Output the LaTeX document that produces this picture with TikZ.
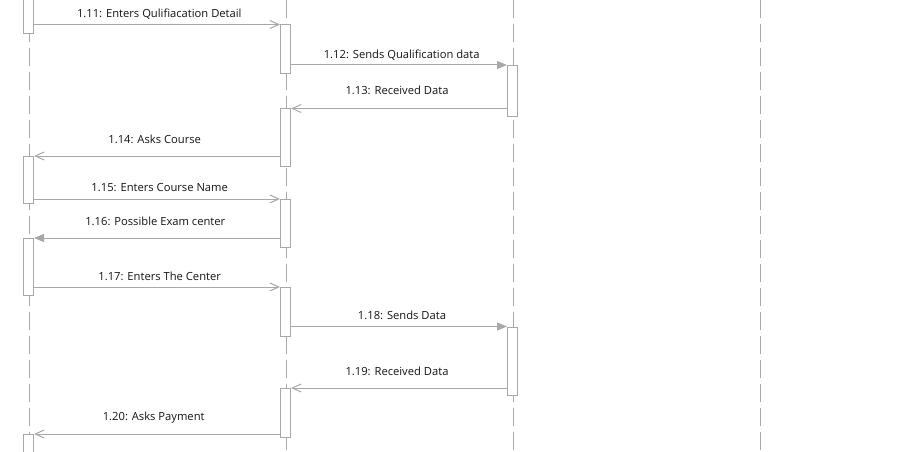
\documentclass[tikz,border=0pt]{standalone}
\usepackage{fontspec}
\setmainfont{Open Sans}
\usetikzlibrary{arrows.meta}
\definecolor{linegray}{HTML}{A8A8A8}
\definecolor{txt}{HTML}{141414}
\tikzset{
  lifeline/.style={draw=linegray, line width=1pt, dash pattern=on 18pt off 6pt},
  actbox/.style={draw=linegray, fill=white, line width=1pt, minimum width=10pt, inner sep=0pt, anchor=north},
  msgopen/.style={draw=linegray, line width=1pt, -{Straight Barb[length=9pt,width=8pt,line width=1pt]}},
  msgfill/.style={draw=linegray, line width=1pt, -{Triangle[length=10pt,width=8pt,fill=linegray]}},
  lbl/.style={text=txt, font=\fontsize{11.2}{13}\selectfont, inner sep=0pt}
}
\begin{document}
\begin{tikzpicture}[x=1pt,y=-1pt]
\useasboundingbox (0,0) rectangle (911,452);
% lifelines
\draw[lifeline] (29,0) -- (29,452);
\draw[lifeline] (286,0) -- (286,452);
\draw[lifeline] (513,0) -- (513,452);
\draw[lifeline] (760,0) -- (760,452);
% activation boxes
\node[actbox, minimum height=43pt] (b1a) at (28.5,-10) {};
\node[actbox, minimum height=47pt] (b1b) at (28.5,156) {};
\node[actbox, minimum height=57pt] (b1c) at (28.5,238) {};
\node[actbox, minimum height=30pt] (b1d) at (28.5,434) {};
\node[actbox, minimum height=49pt] (b2a) at (285.5,24.5) {};
\node[actbox, minimum height=57pt] (b2b) at (285.5,108.5) {};
\node[actbox, minimum height=48pt] (b2c) at (285.5,199) {};
\node[actbox, minimum height=49pt] (b2d) at (285.5,287) {};
\node[actbox, minimum height=49pt] (b2e) at (285.5,388) {};
\node[actbox, minimum height=51pt] (b3a) at (512.5,65) {};
\node[actbox, minimum height=68pt] (b3b) at (512.5,326.5) {};
% messages
\draw[msgopen] (b1a.east |- b2a.north) -- (b2a.north west);
\draw[msgfill] (b2a.east |- b3a.north) -- (b3a.north west);
\draw[msgopen] (b3a.west |- b2b.north) -- (b2b.north east);
\draw[msgopen] (b2b.west |- b1b.north) -- (b1b.north east);
\draw[msgopen] (b1b.east |- b2c.north) -- (b2c.north west);
\draw[msgfill] (b2c.west |- b1c.north) -- (b1c.north east);
\draw[msgopen] (b1c.east |- b2d.north) -- (b2d.north west);
\draw[msgfill] (b2d.east |- b3b.north) -- (b3b.north west);
\draw[msgopen] (b3b.west |- b2e.north) -- (b2e.north east);
\draw[msgopen] (b2e.west |- b1d.north) -- (b1d.north east);
% labels
\node[lbl] (l11) at (159.3,14) {1.11: Enters Qulifiacation Detail};
\node[lbl] (l12) at (401.7,55) {1.12: Sends Qualification data};
\node[lbl] (l13) at (397,90.7) {1.13: Received Data};
\node[lbl] (l14) at (154.7,139) {1.14: Asks Course};
\node[lbl] (l15) at (159.7,187.7) {1.15: Enters Course Name};
\node[lbl] (l16) at (155.3,221.3) {1.16: Possible Exam center};
\node[lbl] (l17) at (159.7,276.7) {1.17: Enters The Center};
\node[lbl] (l18) at (402,315.3) {1.18: Sends Data};
\node[lbl] (l19) at (397,371.7) {1.19: Received Data};
\node[lbl] (l20) at (153.7,417.7) {1.20: Asks Payment};
\end{tikzpicture}
\end{document}
